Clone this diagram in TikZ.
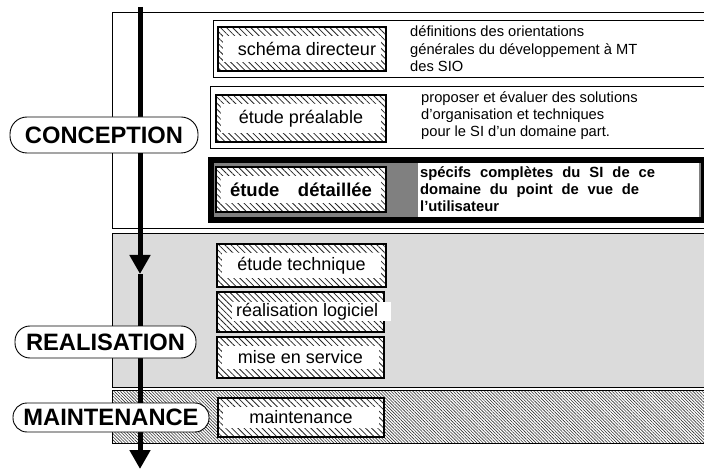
\documentclass[tikz,border=0pt]{standalone}
\usepackage{fontspec}
\setmainfont{Liberation Sans}
\usetikzlibrary{patterns.meta,arrows.meta}
\begin{document}
\begin{tikzpicture}[x=1pt,y=-1pt,
  thinline/.style={draw=black,line width=0.9pt},
  hatchfill/.style={pattern={Lines[angle=-45,distance=4.3pt,line width=0.8pt]},pattern color=black!85},
  densehatch/.style={pattern={Lines[angle=-45,distance=2.2pt,line width=0.6pt]},pattern color=black!80},
  hbox/.style={draw=black,line width=1.8pt,preaction={fill=white},hatchfill,inner sep=0pt,
    path picture={\fill[white] ([xshift=5pt,yshift=-9pt]path picture bounding box.north west) rectangle ([xshift=-5pt,yshift=9pt]path picture bounding box.south east);},
    font=\fontsize{18}{20}\selectfont},
  desc/.style={anchor=base west,inner sep=0pt,align=left,font=\fontsize{14.7}{17.3}\selectfont},
  phase/.style={draw=black,line width=0.9pt,fill=white,inner sep=0pt,font=\fontsize{23.7}{26}\selectfont\bfseries},
  flow/.style={line width=5pt,-{Triangle[length=19pt,width=20pt]}}
]
\useasboundingbox (0,0) rectangle (704,470);

% phase panels
\path[thinline,fill=white] (112,12) rectangle (708,228.5);
\path[thinline,fill=black!14] (112,233) rectangle (708,387);
\path[thinline,preaction={fill=white},densehatch] (112,390) rectangle (708,443);

% frames of the conception steps
\path[thinline,fill=white] (213,20) rectangle (708,77);
\path[thinline,fill=white] (210,86.5) rectangle (708,148);
\path[fill=black] (208,157) rectangle (708,223);
\path[fill=black!50] (214,163) rectangle (701,217);
\path[fill=white] (418,163) rectangle (699,217);

% step boxes
\node[hbox,minimum width=168pt,minimum height=44pt] (sd) at (302,49) {\hspace*{10pt}schéma directeur};
\node[hbox,minimum width=170pt,minimum height=47pt] (ep) at (301,118.5) {étude préalable};
\node[hbox,minimum width=170pt,minimum height=45pt,font=\fontsize{18.5}{20}\selectfont\bfseries] (ed) at (301,189.5) {\makebox[142pt][s]{étude détaillée}};
\node[hbox,minimum width=169pt,minimum height=43pt] (et) at (301.5,265.5) {étude technique};
\node[hbox,minimum width=167pt,minimum height=40pt,path picture={}] (rl) at (300.5,312) {};
\node[fill=white,anchor=west,inner sep=0pt,minimum height=19pt,font=\fontsize{18}{20}\selectfont] (rlt) at (232,311.5) {\hspace*{4pt}réalisation logiciel\hspace*{13pt}};
\node[hbox,minimum width=167pt,minimum height=41pt] (ms) at (300.5,357.5) {mise en service};
\node[hbox,minimum width=166pt,minimum height=39pt] (mt) at (301,417.5) {maintenance};

% descriptions (base anchor = baseline of the last line)
\node[desc] (d1) at (410,71.5) {définitions des orientations\\générales du développement à MT\\des SIO};
\node[desc] (d2) at (421,137) {proposer et évaluer des solutions\\d'organisation et techniques\\pour le SI d'un domaine part.};
\node[desc,font=\fontsize{14.8}{17}\selectfont\bfseries] (d3) at (420,212) {\makebox[235pt][s]{spécifs complètes du SI de ce}\\\makebox[219pt][s]{domaine du point de vue de}\\l'utilisateur};

% life-cycle arrow
\coordinate (a0) at (140,7);
\coordinate (a1) at (140,274);
\coordinate (a2) at (140,469);
\draw[flow] (a0) -- (a1);
\draw[flow] (a1) -- (a2);

% phase labels
\node[phase,rounded corners=17pt,minimum width=188pt,minimum height=36pt] (conc) at (104,135) {CONCEPTION};
\node[phase,rounded corners=15pt,minimum width=181pt,minimum height=32pt] (real) at (105.5,342) {REALISATION};
\node[phase,rounded corners=14pt,minimum width=196pt,minimum height=29pt] (maint) at (111,417.5) {MAINTENANCE};
\end{tikzpicture}
\end{document}
